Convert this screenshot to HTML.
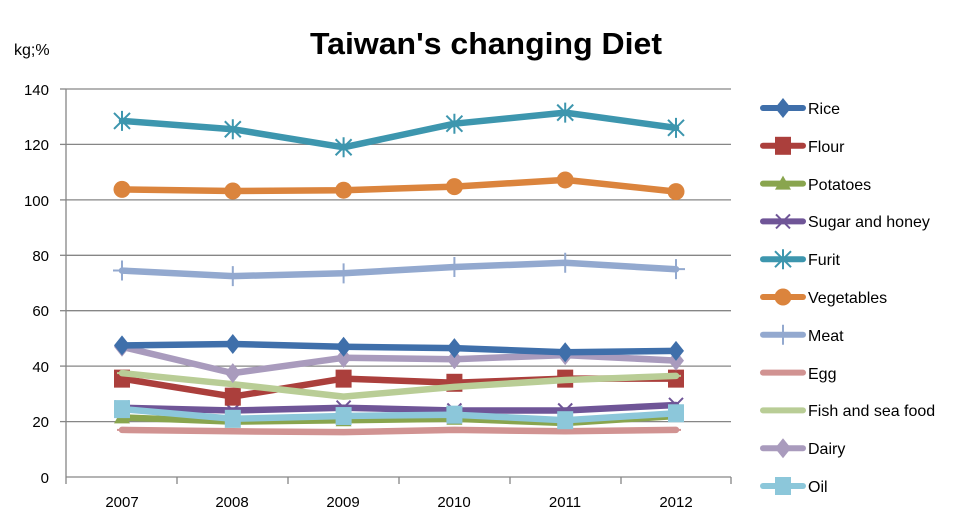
<!DOCTYPE html>
<html><head><meta charset="utf-8"><style>
body{margin:0;background:#fff;}
svg{display:block;font-family:"Liberation Sans",sans-serif;}
</style></head><body>
<svg id="c" width="976" height="530" viewBox="0 0 976 530">
<rect width="976" height="530" fill="#fff"/>
<text x="486" y="54" font-size="31" font-weight="bold" text-anchor="middle" fill="#000" textLength="352" lengthAdjust="spacingAndGlyphs">Taiwan's changing Diet</text>
<text x="14" y="55" font-size="16" fill="#000">kg;%</text>
<g stroke="#868686" stroke-width="1.3">
<line x1="66" y1="89" x2="731" y2="89"/><line x1="66" y1="144.4" x2="731" y2="144.4"/>
<line x1="66" y1="199.9" x2="731" y2="199.9"/><line x1="66" y1="255.3" x2="731" y2="255.3"/>
<line x1="66" y1="310.7" x2="731" y2="310.7"/><line x1="66" y1="366.1" x2="731" y2="366.1"/>
<line x1="66" y1="421.6" x2="731" y2="421.6"/><line x1="66" y1="477" x2="731" y2="477"/>
<line x1="66" y1="89" x2="66" y2="477"/>
<line x1="60" y1="89" x2="66" y2="89"/><line x1="60" y1="144.4" x2="66" y2="144.4"/><line x1="60" y1="199.9" x2="66" y2="199.9"/><line x1="60" y1="255.3" x2="66" y2="255.3"/><line x1="60" y1="310.7" x2="66" y2="310.7"/><line x1="60" y1="366.1" x2="66" y2="366.1"/><line x1="60" y1="421.6" x2="66" y2="421.6"/>
<line x1="66" y1="477" x2="66" y2="484"/><line x1="177" y1="477" x2="177" y2="484"/><line x1="288" y1="477" x2="288" y2="484"/><line x1="399" y1="477" x2="399" y2="484"/><line x1="510" y1="477" x2="510" y2="484"/><line x1="621" y1="477" x2="621" y2="484"/><line x1="731" y1="477" x2="731" y2="484"/>
</g>
<g font-size="15" fill="#000" text-anchor="end">
<text x="49" y="95">140</text><text x="49" y="150">120</text><text x="49" y="206">100</text><text x="49" y="261">80</text><text x="49" y="316">60</text><text x="49" y="372">40</text><text x="49" y="427">20</text><text x="49" y="483">0</text>
</g>
<g font-size="15" fill="#000" text-anchor="middle">
<text x="122" y="507">2007</text><text x="232" y="507">2008</text><text x="343" y="507">2009</text><text x="454" y="507">2010</text><text x="565" y="507">2011</text><text x="676" y="507">2012</text>
</g>
<g font-size="16" fill="#000">
<text x="808" y="114">Rice</text><text x="808" y="152">Flour</text><text x="808" y="190">Potatoes</text><text x="808" y="227">Sugar and honey</text><text x="808" y="265">Furit</text><text x="808" y="303">Vegetables</text><text x="808" y="341">Meat</text><text x="808" y="379">Egg</text><text x="808" y="416">Fish and sea food</text><text x="808" y="454">Dairy</text><text x="808" y="492">Oil</text>
</g>
<g id="s"></g>
</svg>
<script>
var S=[
["#3f6faa","d",[47.5,48,47,46.5,45,45.5]],
["#ab3f3c","s",[35.5,29,35.5,34,35.5,35.5]],
["#89a54e","t",[21.5,20,20.5,21,19.5,22]],
["#6f5597","x",[25,24,25,24,24,26]],
["#3d96ae","a",[128.5,125.5,119,127.5,131.5,126]],
["#db843d","c",[103.8,103.2,103.5,104.8,107.2,103]],
["#93a9cf","p",[74.5,72.5,73.5,75.8,77.3,75]],
["#d19392","m",[17,16.5,16.2,17,16.5,17]],
["#b9cd96","m",[37.5,33.5,29,32.5,35,36.5]],
["#a99bbd","d",[47,37.5,43,42.5,44,42]],
["#8cc7da","s",[24.5,21,22,22.5,20.5,23]]];
var order=[7,2,3,10,1,8,9,0,6,5,4];
var g=document.getElementById('s'),h='';
function Y(v){return 477-v*2.771;}
function mk(t,c,x,y){
 if(t=='d')return '<polygon points="'+x+','+(y-10)+' '+(x+8)+','+y+' '+x+','+(y+10)+' '+(x-8)+','+y+'" fill="'+c+'"/>';
 if(t=='s')return '<rect x="'+(x-8)+'" y="'+(y-9)+'" width="16" height="18" fill="'+c+'"/>';
 if(t=='t')return '<polygon points="'+x+','+(y-8)+' '+(x+8)+','+(y+6)+' '+(x-8)+','+(y+6)+'" fill="'+c+'"/>';
 if(t=='c')return '<circle cx="'+x+'" cy="'+y+'" r="8.5" fill="'+c+'"/>';
 if(t=='x')return '<path d="M'+(x-7)+' '+(y-7)+'L'+(x+7)+' '+(y+7)+'M'+(x+7)+' '+(y-7)+'L'+(x-7)+' '+(y+7)+'" stroke="'+c+'" stroke-width="2"/>';
 if(t=='a')return '<path d="M'+(x-8)+' '+(y-8)+'L'+(x+8)+' '+(y+8)+'M'+(x+8)+' '+(y-8)+'L'+(x-8)+' '+(y+8)+'M'+x+' '+(y-10)+'L'+x+' '+(y+10)+'" stroke="'+c+'" stroke-width="2"/>';
 if(t=='p')return '<path d="M'+(x-9)+' '+y+'L'+(x+9)+' '+y+'M'+x+' '+(y-10)+'L'+x+' '+(y+10)+'" stroke="'+c+'" stroke-width="2"/>';
 if(t=='m')return '<line x1="'+(x-5)+'" y1="'+y+'" x2="'+(x+5)+'" y2="'+y+'" stroke="'+c+'" stroke-width="2"/>';
 return '';
}
order.forEach(function(i){var s=S[i],pts=s[2].map(function(v,k){return (122+k*110.8)+','+Y(v).toFixed(1)}).join(' ');
 h+='<polyline points="'+pts+'" fill="none" stroke="'+s[0]+'" stroke-width="6.5" stroke-linejoin="round" stroke-linecap="round"/>';
 s[2].forEach(function(v,k){h+=mk(s[1],s[0],122+k*110.8,Y(v));});});
S.forEach(function(s,i){var y=108+i*37.8;h+='<line x1="763" y1="'+y+'" x2="803" y2="'+y+'" stroke="'+s[0]+'" stroke-width="6" stroke-linecap="round"/>'+mk(s[1],s[0],783,y);});
g.innerHTML=h;
</script>
</body></html>
